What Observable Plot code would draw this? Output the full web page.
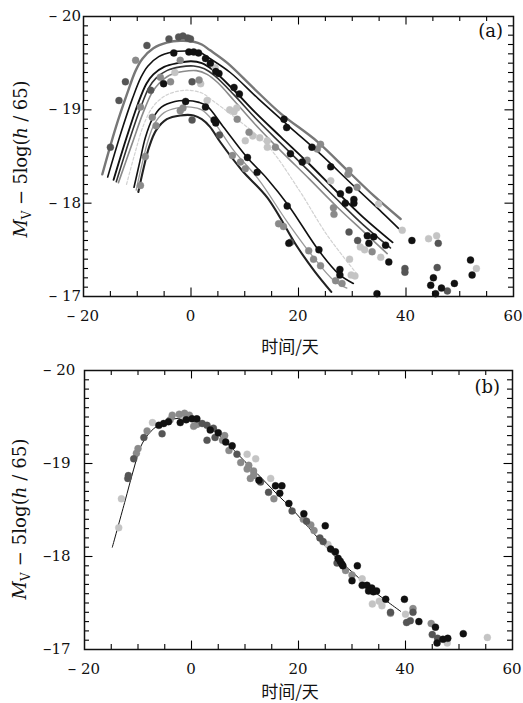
<!DOCTYPE html>
<html><head><meta charset="utf-8">
<script src="https://cdn.jsdelivr.net/npm/d3@7"></script>
<script src="https://cdn.jsdelivr.net/npm/@observablehq/plot@0.6"></script>
<style>body{margin:0;background:#fff} #chart{width:523px} svg{display:block;overflow:visible}</style>
</head><body><div id="chart"></div>
<script>
// ---------- ticks ----------
const xTickLabels = [-20, 0, 20, 40, 60];
const yTickLabels = [-20, -19, -18, -17];
const xMajor = [0, 20, 40];
const xMinor = [-15, -10, -5, 5, 10, 15, 25, 30, 35, 45, 50, 55];
const yMajor = [-19, -18];
const yMinor = [-19.9, -19.8, -19.7, -19.6, -19.5, -19.4, -19.3, -19.2, -19.1,
                -18.9, -18.8, -18.7, -18.6, -18.5, -18.4, -18.3, -18.2, -18.1,
                -17.9, -17.8, -17.7, -17.6, -17.5, -17.4, -17.3, -17.2, -17.1];

// ---------- panel (a): fitted light curves ----------
const curveA = [[-16.5,-18.31],[-14.0,-18.81],[-11.9,-19.17],[-10.3,-19.42],[-9.0,-19.55],[-7.0,-19.66],[-4.5,-19.72],[-2,-19.74],[0.5,-19.73],[2,-19.70],[3.5,-19.64],[6.8,-19.50],[11.5,-19.24],[16.7,-18.96],[23.5,-18.66],[29.1,-18.35],[34,-18.08],[39,-17.83]];
const curveB = [[-15.5,-18.28],[-13.0,-18.76],[-10.9,-19.12],[-9.3,-19.35],[-8.0,-19.47],[-6.0,-19.57],[-3.5,-19.62],[-1,-19.63],[1.5,-19.62],[3.5,-19.55],[7.3,-19.40],[12.5,-19.12],[18.5,-18.81],[24,-18.53],[30,-18.20],[35,-17.93],[38.6,-17.73]];
const curveC = [[-14.4,-18.25],[-12.0,-18.70],[-9.9,-19.06],[-8.3,-19.28],[-7.0,-19.38],[-5,-19.46],[-2.5,-19.50],[0,-19.52],[2,-19.50],[4,-19.43],[8,-19.21],[12,-18.97],[16.7,-18.71],[22,-18.42],[27,-18.13],[32,-17.85],[37.5,-17.58]];
const curveD = [[-13.9,-18.23],[-11.5,-18.67],[-9.4,-19.02],[-7.8,-19.24],[-6.5,-19.34],[-4.5,-19.42],[-2,-19.46],[0.5,-19.47],[2.5,-19.44],[4.5,-19.36],[8,-19.16],[12,-18.91],[16.7,-18.64],[22,-18.34],[27,-18.05],[32,-17.77],[37.1,-17.52]];
const curveE = [[-13.5,-18.22],[-11.0,-18.63],[-8.9,-18.97],[-7.3,-19.18],[-6.0,-19.28],[-4,-19.37],[-1.5,-19.41],[1,-19.42],[3,-19.38],[5,-19.29],[8,-19.10],[12,-18.84],[16.7,-18.56],[22,-18.26],[27,-17.97],[32,-17.70],[36.5,-17.46]];
const curveI = [[-12.0,-18.20],[-10.5,-18.52],[-8.8,-18.84],[-7,-19.04],[-4.5,-19.16],[-1,-19.21],[2,-19.18],[4,-19.10],[7.9,-18.93],[14.2,-18.62],[20,-18.15],[25.3,-17.66],[30.9,-17.24]];
const curveF = [[-10.6,-18.17],[-9.5,-18.45],[-8.5,-18.70],[-7.2,-18.90],[-5.5,-19.03],[-3,-19.09],[-1,-19.10],[1.5,-19.08],[3,-19.04],[6,-18.82],[10.45,-18.49],[14.2,-18.26],[18.2,-17.97],[23.8,-17.49],[27.5,-17.24],[30.2,-17.14]];
const curveG = [[-10.2,-18.14],[-9.1,-18.42],[-8.1,-18.65],[-6.8,-18.85],[-5,-18.97],[-2.5,-19.02],[0,-19.03],[2,-19.00],[4,-18.89],[8,-18.56],[12.5,-18.26],[17.9,-17.80],[22.5,-17.44],[26.6,-17.17],[29.0,-17.09]];
const curveH = [[-9.8,-18.12],[-8.8,-18.38],[-7.8,-18.60],[-6.5,-18.78],[-4.5,-18.90],[-2,-18.94],[0.5,-18.94],[2,-18.90],[3.5,-18.82],[5.5,-18.65],[9.5,-18.35],[14.2,-18.06],[19.8,-17.53],[23,-17.27],[26.1,-17.05]];

// observations in panel (a), by grey level
const aBlack = [[-3.2,-19.61],[-0.4,-19.62],[0.5,-19.62],[1.4,-19.61],[2.7,-19.55],[3.6,-19.50],[5.2,-19.39],[4.6,-19.41],[8.0,-19.24],[9.0,-19.17],[-5.1,-19.28],[-1.0,-19.09],[2.7,-19.03],[4.3,-18.89],[4.6,-18.86],[10.5,-18.49],[12.3,-18.33],[17.9,-17.97],[18.2,-17.57],[23.8,-17.50],[27.7,-17.29],[27.7,-17.23],[17.3,-18.90],[17.8,-18.81],[22.5,-18.60],[26.0,-18.39],[18.5,-18.53],[20.7,-18.44],[27.8,-18.10],[29.4,-18.14],[30.3,-18.04],[30.3,-18.00],[28.7,-18.00],[32.8,-17.65],[34.0,-17.64],[33.1,-17.57],[36.2,-17.55],[36.8,-17.37],[41.1,-17.60],[34.6,-17.03],[44.6,-17.12],[45.1,-17.20],[46.6,-17.09],[45.5,-17.03],[49.0,-17.14],[52.0,-17.39],[52.3,-17.23]];
const aDark = [[-8.2,-19.69],[-4.1,-19.76],[-2.3,-19.78],[-1.5,-19.79],[-0.6,-19.77],[-0.1,-19.76],[-7.5,-19.21],[0.2,-19.30],[0.2,-18.89],[47.7,-17.06],[39.8,-17.30],[39.8,-17.26],[46.0,-17.57],[45.8,-17.31],[29.4,-17.69],[31.0,-17.60],[-15.0,-18.60],[-13.4,-19.10],[-12.2,-19.30],[5.3,-18.73],[18.5,-17.58]];
const aMid = [[-10.3,-19.53],[-9.4,-19.03],[-9.4,-18.19],[-8.5,-18.50],[-6.5,-18.83],[-7.2,-18.92],[-5.7,-19.35],[-3.8,-19.30],[-2.0,-19.53],[1.5,-19.32],[-2.0,-18.99],[-1.5,-19.02],[8.6,-18.90],[10.8,-18.76],[7.7,-18.51],[9.2,-18.44],[10.1,-18.37],[16.3,-17.78],[17.2,-17.75],[21.9,-17.49],[22.8,-17.40],[24.1,-17.33],[26.9,-17.17],[28.1,-17.14],[21.6,-18.46],[23.5,-18.58],[24.1,-18.63],[29.4,-18.35],[30.9,-18.17],[29.2,-18.31],[26.5,-17.95],[26.6,-17.88],[15.7,-18.60],[33.7,-17.48]];
const aLight = [[3.0,-19.10],[7.2,-19.00],[8.0,-18.98],[8.5,-19.02],[11.5,-18.72],[12.8,-18.70],[14.2,-18.67],[14.2,-18.60],[10.1,-18.67],[26.0,-18.24],[34.9,-17.99],[29.5,-17.40],[29.8,-17.23],[30.5,-17.22],[31.5,-17.53],[35.3,-17.42],[32.3,-17.50],[39.3,-17.71],[44.2,-17.62],[45.7,-17.65],[53.1,-17.30],[1.8,-19.28],[4.5,-19.45],[-3.0,-19.40]];

// ---------- panel (b): corrected template ----------
const templateB = [[-14.8,-18.10],[-12.5,-18.58],[-10.8,-18.94],[-9.5,-19.18],[-8,-19.32],[-6,-19.42],[-4,-19.47],[-1,-19.49],[1,-19.47],[3,-19.41],[5,-19.31],[8,-19.14],[10,-19.02],[12.3,-18.89],[16,-18.67],[18.8,-18.51],[23,-18.24],[27,-17.99],[30.3,-17.82],[34,-17.63],[39.1,-17.41]];
const bLight = [[-13.6,-18.31],[-13.1,-18.62],[-7.3,-19.44],[10.4,-19.10],[14.8,-18.84],[25.5,-18.13],[31.9,-17.76],[33.8,-17.49],[35.1,-17.52],[35.6,-17.47],[40.0,-17.38],[47.8,-17.07],[55.3,-17.13],[-1.5,-19.50],[12.0,-19.05]];
const bDark = [[-11.9,-18.84],[-11.8,-18.87],[-10.8,-19.05],[-8.9,-19.28],[-5.5,-19.32],[2.0,-19.43],[2.9,-19.41],[2.9,-19.25],[4.1,-19.38],[4.4,-19.28],[8.5,-19.10],[12.9,-18.80],[14.4,-18.69],[18.8,-18.49],[21.5,-18.38],[24.0,-18.20],[24.6,-18.16],[37.2,-17.40],[40.2,-17.29],[40.9,-17.31],[41.4,-17.40],[45.0,-17.16],[46.0,-17.12],[27.2,-17.93]];
const bMid = [[-10.3,-19.11],[-10.0,-19.16],[-8.3,-19.35],[-3.6,-19.52],[-2.3,-19.53],[-1.3,-19.54],[-0.4,-19.52],[0.4,-19.40],[7.0,-19.14],[9.2,-19.01],[10.7,-18.98],[11.6,-18.92],[11.0,-18.84],[10.4,-18.94],[11.6,-18.87],[15.4,-18.62],[20.9,-18.40],[22.3,-18.34],[22.9,-18.28],[28.8,-17.85],[30.0,-17.80],[37.2,-17.39],[41.4,-17.44],[44.8,-17.28],[-4.0,-19.47],[1.0,-19.42],[5.8,-19.25],[6.2,-19.30]];
const bBlack = [[-6.1,-19.41],[-5.2,-19.43],[-4.3,-19.45],[-2.1,-19.44],[0.1,-19.48],[1.0,-19.48],[5.0,-19.33],[6.4,-19.23],[7.6,-19.19],[12.6,-18.82],[15.7,-18.76],[16.9,-18.76],[16.5,-18.68],[18.2,-18.57],[21.0,-18.46],[25.0,-18.33],[26.0,-18.08],[26.9,-18.05],[27.4,-17.98],[27.8,-17.95],[28.1,-17.92],[28.3,-17.90],[31.0,-17.90],[30.0,-17.74],[31.9,-17.69],[32.8,-17.69],[33.7,-17.66],[33.1,-17.63],[34.0,-17.62],[34.6,-17.63],[36.3,-17.54],[39.8,-17.54],[42.5,-17.30],[45.6,-17.24],[45.9,-17.07],[47.0,-17.11],[47.9,-17.12],[50.8,-17.17],[-1.0,-19.47],[3.5,-19.36]];

// ---------- styles ----------
const shade = {light: "#c4c4c4", mid: "#8a8a8a", dark: "#555", black: "#111"};
const curveStyles = [
  [curveI, {stroke: "#d2d2d2", strokeWidth: 1.2, strokeDasharray: "3,2"}],
  [curveG, {stroke: "#999", strokeWidth: 1.3}],
  [curveE, {stroke: "#8a8a8a", strokeWidth: 1.6}],
  [curveA, {stroke: "#777", strokeWidth: 2.4}],
  [curveB, {stroke: "#111", strokeWidth: 1.6}],
  [curveC, {stroke: "#111", strokeWidth: 1.9}],
  [curveD, {stroke: "#333", strokeWidth: 1.6}],
  [curveF, {stroke: "#111", strokeWidth: 1.6}],
  [curveH, {stroke: "#222", strokeWidth: 2.1}]
];
const FONT = "DejaVu Serif";
const PXY = 93.3, PXX = 5.36;          // px per data unit (tick lengths)
const tMin = 5, tMaj = 8.5;            // tick lengths in px

function tickMarks() {
  const yMinL = tMin / PXY, yMajL = tMaj / PXY, xMinL = tMin / PXX, xMajL = tMaj / PXX;
  const sw = 1.1;
  return [
    Plot.ruleX(xMinor, {x: d => d, y1: -17, y2: -17 - yMinL, strokeWidth: sw}),
    Plot.ruleX(xMinor, {x: d => d, y1: -20, y2: -20 + yMinL, strokeWidth: sw}),
    Plot.ruleX(xMajor, {x: d => d, y1: -17, y2: -17 - yMajL, strokeWidth: sw}),
    Plot.ruleX(xMajor, {x: d => d, y1: -20, y2: -20 + yMajL, strokeWidth: sw}),
    Plot.ruleY(yMinor, {y: d => d, x1: -20, x2: -20 + xMinL, strokeWidth: sw}),
    Plot.ruleY(yMinor, {y: d => d, x1: 60, x2: 60 - xMinL, strokeWidth: sw}),
    Plot.ruleY(yMajor, {y: d => d, x1: -20, x2: -20 + xMajL, strokeWidth: sw}),
    Plot.ruleY(yMajor, {y: d => d, x1: 60, x2: 60 - xMajL, strokeWidth: sw})
  ];
}
function dots(pts, color) {
  return Plot.dot(pts, {x: d => d[0], y: d => d[1], r: 3.5, fill: color, stroke: color, strokeWidth: 0.6, strokeOpacity: 0.6});
}
// a tick label: slightly enlarged dash (minus) + optional gap + digits
function tickText(sel, v, wideGap) {
  if (v < 0) {
    sel.append("tspan").style("font-size", "17px").text("\u2013");
    sel.append("tspan").text((wideGap ? "\u00a0" : "") + Math.abs(v));
  } else sel.append("tspan").text(String(v));
}
// tick labels & axis titles, placed through the plot's own scales
function addLabels(svg, o) {
  const s = d3.select(svg).append("g").attr("fill", "#111")
    .style("font-family", FONT).style("font-size", "15px");
  const sx = svg.scale("x"), sy = svg.scale("y");
  for (const v of xTickLabels) {
    tickText(s.append("text").attr("x", sx.apply(v)).attr("y", sy.apply(-17) + o.xtdy)
      .attr("text-anchor", "middle"), v, true);
  }
  for (const v of yTickLabels) {
    tickText(s.append("text").attr("x", o.ytx).attr("y", sy.apply(v) + 5)
      .attr("text-anchor", o.ytanchor), v, o.ywide(v));
  }
  const t = s.append("text").style("font-size", "18px")
    .attr("transform", `translate(${o.ylx},${o.yly}) rotate(-90)`)
    .attr("text-anchor", "middle")
    .attr("textLength", o.ylen).attr("lengthAdjust", "spacing");
  t.append("tspan").attr("font-style", "italic").text("M");
  t.append("tspan").style("font-size", "12px").attr("dy", 4).text("V");
  t.append("tspan").attr("dy", -4).text(" \u2212 5log(");
  t.append("tspan").attr("font-style", "italic").text("h");
  t.append("tspan").text(" / 65)");
  s.append("text").attr("x", o.xlx).attr("y", o.xly).attr("text-anchor", "middle")
    .style("font-family", "Noto Sans CJK SC").style("font-size", "17px").text("时间/天");
  s.append("text").style("font-size", "18px").attr("x", o.tagx).attr("y", o.tagy).attr("text-anchor", "end").text(o.tag);
}

function panel(o) {
  return Plot.plot({
    width: 523, height: o.height,
    marginTop: o.mt, marginBottom: o.mb, marginLeft: o.ml, marginRight: o.mr,
    style: {background: "#fff"},
    x: {domain: [-20, 60], axis: null},
    y: {domain: [-17, -20], axis: null},
    marks: [
      ...o.marks,
      ...tickMarks(),
      Plot.frame({stroke: "#111", strokeWidth: 1.5})
    ]
  });
}

// ---------- panel (a) ----------
const plotA = panel({
  height: 362, mt: 16, mb: 66, ml: 83, mr: 10,
  marks: [
    ...curveStyles.map(([pts, st]) => Plot.line(pts, {x: d => d[0], y: d => d[1], curve: "catmull-rom", ...st})),
    dots(aLight, shade.light), dots(aMid, shade.mid), dots(aDark, shade.dark), dots(aBlack, shade.black)
  ]
});
// ---------- panel (b) ----------
const plotB = panel({
  height: 341, mt: 8, mb: 54, ml: 84, mr: 11,
  marks: [
    Plot.line(templateB, {x: d => d[0], y: d => d[1], curve: "catmull-rom", stroke: "#111", strokeWidth: 1}),
    dots(bLight, shade.light), dots(bMid, shade.mid), dots(bDark, shade.dark), dots(bBlack, shade.black)
  ]
});

addLabels(plotA, {xtdy: 25, ytx: 81, ytanchor: "end", ywide: v => true,
  ylx: 27, yly: 159, ylen: 157, xlx: 290, xly: 353, tag: "(a)", tagx: 503, tagy: 37});
addLabels(plotB, {xtdy: 25, ytx: 43, ytanchor: "start", ywide: v => v === -20,
  ylx: 26, yly: 157, ylen: 161, xlx: 290, xly: 335.7, tag: "(b)", tagx: 500, tagy: 31});

document.getElementById("chart").append(plotA, plotB);
</script>
</body></html>
